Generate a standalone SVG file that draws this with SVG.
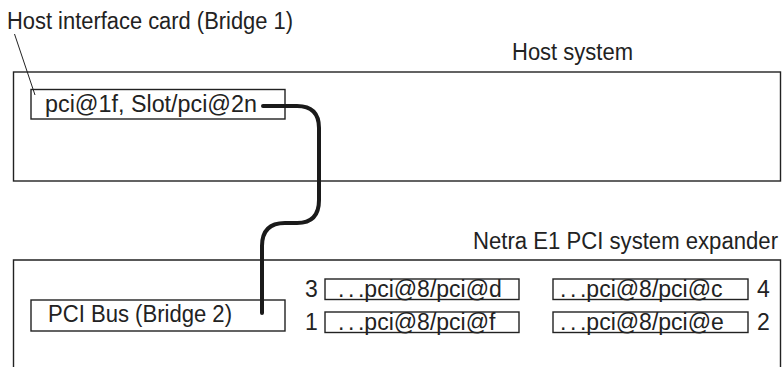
<svg xmlns="http://www.w3.org/2000/svg" width="783" height="367" viewBox="0 0 783 367">
<style>
.box{fill:none;stroke:#222;stroke-width:1.4}
.t{font-family:"Liberation Sans",Arial,sans-serif;font-size:23px;fill:#222}
.dots{word-spacing:-2.8px}
</style>
<rect width="783" height="367" fill="#fff"/>
<g id="host-system">
<rect class="box" x="13.5" y="72" width="767" height="109"/>
<text class="t" x="512" y="60" textLength="121" lengthAdjust="spacingAndGlyphs">Host system</text>
</g>
<g id="host-card">
<rect class="box" x="31" y="89.5" width="254" height="29.5"/>
<text class="t" x="45" y="112" textLength="212" lengthAdjust="spacingAndGlyphs">pci@1f, Slot/pci@2n</text>
<text class="t" x="7" y="29" textLength="286" lengthAdjust="spacingAndGlyphs">Host interface card (Bridge 1)</text>
<line x1="14.5" y1="34" x2="35" y2="95" stroke="#222" stroke-width="1"/>
</g>
<g id="expander">
<path class="box" d="M13.5,370 V260 H780.5 V370"/>
<text class="t" x="778" y="249" font-size="22" text-anchor="end" textLength="305" lengthAdjust="spacingAndGlyphs">Netra E1 PCI system expander</text>
</g>
<g id="pci-bus">
<rect class="box" x="31" y="300" width="254" height="31"/>
<text class="t" x="48" y="322" textLength="184" lengthAdjust="spacingAndGlyphs">PCI Bus (Bridge 2)</text>
</g>
<g id="slot3">
<rect class="box" x="325" y="279" width="194" height="20.5"/>
<text class="t dots" x="338" y="297">. . .pci@8/pci@d</text>
<text class="t" x="305" y="297">3</text>
</g>
<g id="slot1">
<rect class="box" x="325" y="312" width="194" height="20.5"/>
<text class="t dots" x="338" y="330">. . .pci@8/pci@f</text>
<text class="t" x="305" y="330">1</text>
</g>
<g id="slot4">
<rect class="box" x="553" y="279" width="195" height="20.5"/>
<text class="t dots" x="560" y="297">. . .pci@8/pci@c</text>
<text class="t" x="757" y="297">4</text>
</g>
<g id="slot2">
<rect class="box" x="553" y="312" width="195" height="20.5"/>
<text class="t dots" x="560" y="330">. . .pci@8/pci@e</text>
<text class="t" x="757" y="330">2</text>
</g>
<g id="connectors">
<path d="M263,106 H297 Q319,106 319,128 V200 Q319,223 297,223 H285 Q262,223 262,246 V313" fill="none" stroke="#1a1a1a" stroke-width="4" stroke-linecap="round" stroke-linejoin="round"/>
</g>
</svg>
